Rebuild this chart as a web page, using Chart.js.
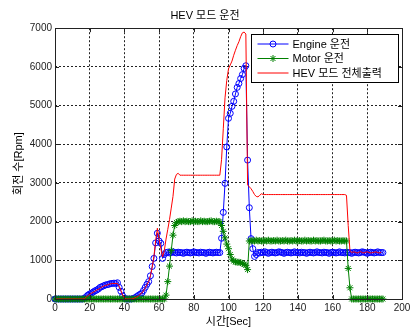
<!DOCTYPE html>
<html><head><meta charset="utf-8">
<script src="https://cdn.jsdelivr.net/npm/chart.js@4"></script>
<style>html,body{margin:0;padding:0;background:#fff;}#wrap{width:410px;height:329px;}</style>
</head><body><div id="wrap"><canvas id="c" width="410" height="329"></canvas></div>
<script>
const timeSec = [
0,1,2,3,4,5,6,7,8,9,10,11,12,13,14,15,16,17,18,19,20,21,22,23,24,25,26,27,28,29,
30,31,32,33,34,35,36,37,38,39,40,41,42,43,44,45,46,47,48,49,50,51,52,53,54,55,56,57,58,59,
60,61,62,63,64,65,66,67,68,69,70,71,72,73,74,75,76,77,78,79,80,81,82,83,84,85,86,87,88,89,
90,91,92,93,94,95,96,97,98,99,100,101,102,103,104,105,106,107,108,109,110,111,112,113,114,115,116,117,118,119,
120,121,122,123,124,125,126,127,128,129,130,131,132,133,134,135,136,137,138,139,140,141,142,143,144,145,146,147,148,149,
150,151,152,153,154,155,156,157,158,159,160,161,162,163,164,165,166,167,168,169,170,171,172,173,174,175,176,177,178,179,
180,181,182,183,184,185,186,187,188,189];

const engineRpm = [
0,0,0,0,0,0,0,0,0,0,0,0,0,0,0,0,0,
20,60,100,130,150,180,210,230,260,300,320,340,360,370,380,400,400,410,400,420,300,200,80,20,
0,0,0,0,
10,30,60,90,120,150,220,300,380,
450,600,840,1050,1450,1700,1500,1440,1050,1150,
1200,1210,1190,1200,1220,1200,1190,1210,
1200,1200,1180,1200,1210,1200,1190,1200,
1220,1200,1200,1190,1210,1200,1200,1180,
1200,1210,1200,1190,1200,1210,1200,1200,
1570,2240,2990,3930,4670,4800,4980,5110,5300,5470,5570,5700,5800,5960,6030,3590,2360,1560,1300,1100,1150,
1200,1190,1210,1200,1220,1200,1180,1200,
1210,1200,1190,1200,1220,1210,1200,1180,
1200,1210,1200,1190,1200,1220,1200,1200,
1190,1210,1200,1200,1180,1200,1210,1200,
1190,1200,1220,1200,1200,1190,1210,1200,
1200,1180,1200,1210,1200,1190,1200,1220,
1200,1200,1190,1210,1200,1200,1180,1200,
1210,1200,1190,1200,1220,1210,1200,1180,
1200,1210,1200,1190,1200,1220,1200,1200,
1200];

const motorRpm = [
0,0,0,0,0,0,0,0,0,0,0,0,0,0,0,0,0,0,0,0,0,0,0,0,0,0,0,0,0,0,0,0,
0,0,0,0,0,0,0,0,0,0,0,0,0,0,0,0,0,0,0,0,0,0,0,0,0,0,0,0,0,0,0,0,
100,450,850,1250,1650,1900,1980,
2000,2010,2000,2020,2000,2010,2000,2000,
2020,2000,2010,2000,2000,2020,2000,2010,
2000,2000,2010,2020,2000,2000,2010,2000,
2000,
1900,1750,1580,1420,1300,1150,1030,980,960,950,950,940,920,900,870,760,
1500,
1500,1510,1500,1520,1500,1510,1500,1500,
1510,1500,1520,1500,1500,1510,1500,1520,
1500,1500,1510,1500,1520,1500,1500,1510,
1500,1520,1500,1500,1510,1500,1500,1520,
1500,1510,1500,1500,1520,1500,1510,1500,
1500,1510,1520,1500,1500,1510,1500,1500,
1520,1500,1510,1500,1500,1510,1500,1500,
790,290,
0,0,0,0,0,0,0,0,0,0,0,0,0,0,0,0,0,0,0];

const totalRpm = [
0,0,0,0,0,0,0,0,0,0,0,0,0,0,0,0,0,
10,50,90,120,150,170,200,230,250,280,310,330,350,360,380,390,400,400,400,400,330,220,100,30,
0,0,0,0,
10,30,50,80,120,150,210,290,370,
450,600,820,1100,1500,1830,1550,1300,1090,1250,
1550,1800,2050,2350,2650,3100,3220,3250,
3200,3200,3200,3200,3200,3200,3200,3200,3200,3200,3200,3200,
3200,3200,3200,3200,3200,3200,3200,3200,3200,3200,3200,3200,
3600,4400,5200,5650,5950,6050,6150,6300,6430,6550,6650,6780,6880,6900,6850,
2950,2900,2850,2780,2700,2650,2640,2680,2720,
2700,2700,2700,2700,2700,2700,2700,2700,2700,2700,2700,2700,
2700,2700,2700,2700,2700,2700,2700,2700,2700,2700,2700,2700,
2700,2700,2700,2700,2700,2700,2700,2700,2700,2700,2700,2700,
2700,2700,2700,2700,2700,2700,2700,2700,2700,2700,2700,2700,
2680,1900,1250,
1200,1220,1210,1190,1200,1230,1200,1190,1210,1220,1200,1190,1200,1210,1220,1200,1190,1210];

const xTicks = [0,20,40,60,80,100,120,140,160,180,200];
const yTicks = [0,1000,2000,3000,4000,5000,6000,7000];
const seriesNames = ['Engine 운전','Motor 운전','HEV 모드 전체출력'];
const chartTitle = 'HEV 모드 운전';
const xTitle = '시간[Sec]';
const yTitle = '회전 수[Rpm]';

const FONT = '"Liberation Sans", Arial, "Noto Sans CJK KR", sans-serif';
const toPts = (vals) => vals.map((v, i) => ({x: timeSec[i], y: v}));

const framePlugin = {
  id: 'frame',
  afterDatasetsDraw(chart) {
    const {ctx, chartArea: a, scales} = chart;
    ctx.save();
    ctx.strokeStyle = '#222';
    ctx.lineWidth = 1;
    ctx.beginPath();
    xTicks.forEach(v => {
      const px = Math.round(scales.x.getPixelForValue(v)) + 0.5;
      ctx.moveTo(px, a.bottom); ctx.lineTo(px, a.bottom - 4);
      ctx.moveTo(px, a.top); ctx.lineTo(px, a.top + 4);
    });
    yTicks.forEach(v => {
      const py = Math.round(scales.y.getPixelForValue(v)) + 0.5;
      ctx.moveTo(a.left, py); ctx.lineTo(a.left + 4, py);
      ctx.moveTo(a.right, py); ctx.lineTo(a.right - 4, py);
    });
    ctx.stroke();
    ctx.strokeRect(Math.round(a.left) + 0.5, Math.round(a.top) + 0.5,
      Math.round(a.right - a.left), Math.round(a.bottom - a.top));
    // legend
    const bw = 147, bh = 48;
    const bx = Math.round(a.right) - 4 - bw + 0.5, by = Math.round(a.top) + 6 + 0.5;
    ctx.fillStyle = '#fff';
    ctx.fillRect(bx, by, bw, bh);
    ctx.strokeStyle = '#000';
    ctx.strokeRect(bx, by, bw, bh);
    chart.data.datasets.forEach((ds, i) => {
      const y = by + 9.5 + i * 14.5;
      ctx.strokeStyle = ds.borderColor;
      ctx.lineWidth = 1;
      ctx.beginPath();
      ctx.moveTo(bx + 6, y); ctx.lineTo(bx + 37, y);
      ctx.stroke();
      if (ds.pointRadius > 0) {
        ctx.strokeStyle = ds.pointBorderColor;
        ctx.fillStyle = 'rgba(0,0,0,0)';
        ctx.lineWidth = 1;
        Chart.helpers.drawPoint(ctx, {pointStyle: ds.pointStyle, radius: ds.pointRadius, rotation: 0, borderWidth: 1}, bx + 21.5, y);
      }
      ctx.fillStyle = '#000';
      ctx.font = '11px ' + FONT;
      ctx.textBaseline = 'middle';
      ctx.textAlign = 'left';
      ctx.fillText(ds.label, bx + 41, y + 0.5);
    });
    ctx.restore();
  }
};

new Chart(document.getElementById('c'), {
  type: 'line',
  data: {
    datasets: [
      {label: seriesNames[0], data: toPts(engineRpm), borderColor: '#0000ff', borderWidth: 1,
       pointStyle: 'circle', pointRadius: 3, pointBorderWidth: 1, pointBorderColor: '#0000ff',
       pointBackgroundColor: 'rgba(0,0,0,0)', tension: 0, clip: false, order: 2},
      {label: seriesNames[1], data: toPts(motorRpm), borderColor: '#008000', borderWidth: 1,
       pointStyle: 'star', pointRadius: 3.5, pointBorderWidth: 1, pointBorderColor: '#008000',
       pointBackgroundColor: 'rgba(0,0,0,0)', tension: 0, clip: false, order: 1},
      {label: seriesNames[2], data: toPts(totalRpm), borderColor: '#ff0000', borderWidth: 1,
       pointRadius: 0, pointBorderColor: '#ff0000', tension: 0, clip: false, order: 0}
    ]
  },
  options: {
    responsive: false,
    animation: false,
    devicePixelRatio: 1,
    layout: {padding: {left: 0, right: 0, top: 0, bottom: 0}},
    plugins: {
      legend: {display: false},
      tooltip: {enabled: false},
      title: {display: true, text: chartTitle, color: '#000',
        font: {family: FONT, size: 11, weight: 'normal'}, padding: {top: 9, bottom: 6}}
    },
    scales: {
      x: {
        type: 'linear', min: 0, max: 200,
        afterBuildTicks: s => { s.ticks = xTicks.map(v => ({value: v})); },
        afterFit: s => { s.height = 30; s.paddingLeft = 0; s.paddingRight = 8; },
        ticks: {color: '#222', font: {family: FONT, size: 10}, padding: 3, maxRotation: 0, autoSkip: false,
          callback: v => String(v)},
        grid: {color: '#222', lineWidth: 1, drawTicks: false},
        border: {display: false, dash: [2, 2]},
        title: {display: true, text: xTitle, color: '#000', font: {family: FONT, size: 11}, padding: {top: 0, bottom: 0}}
      },
      y: {
        type: 'linear', min: 0, max: 7000,
        afterBuildTicks: s => { s.ticks = yTicks.map(v => ({value: v})); },
        afterFit: s => { s.width = 55; s.paddingTop = 0; s.paddingBottom = 0; },
        ticks: {color: '#222', font: {family: FONT, size: 10}, padding: 3, autoSkip: false,
          callback: v => String(v)},
        grid: {color: '#222', lineWidth: 1, drawTicks: false},
        border: {display: false, dash: [2, 2]},
        title: {display: true, text: yTitle, color: '#000', font: {family: FONT, size: 11}, padding: {top: 12, bottom: 0}}
      }
    }
  },
  plugins: [framePlugin]
});
</script>
</body></html>
